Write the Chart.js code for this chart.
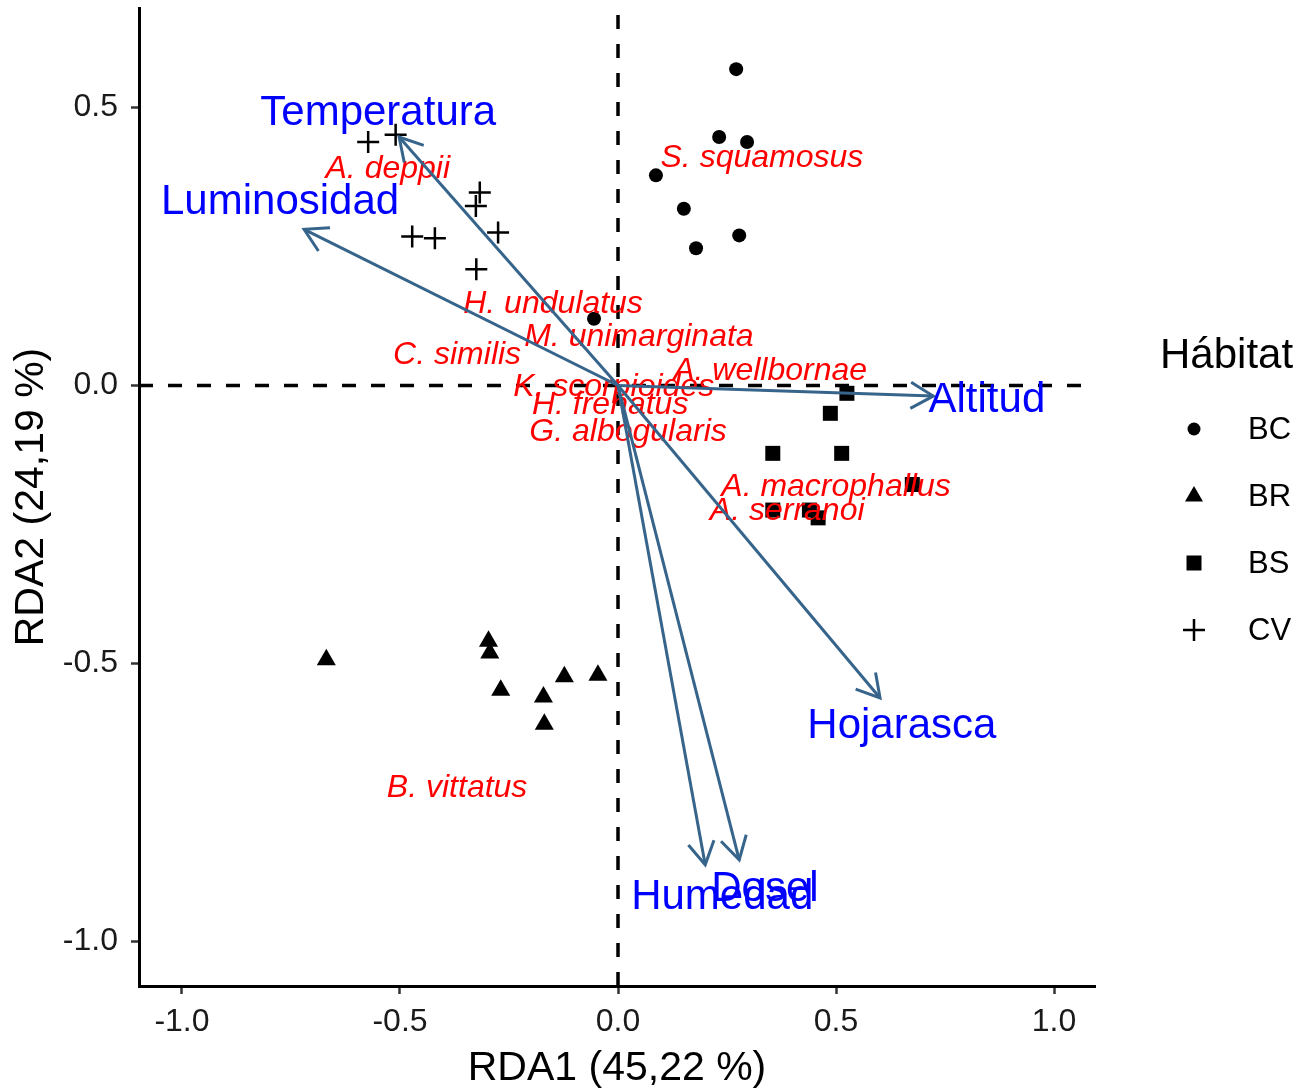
<!DOCTYPE html>
<html lang="es">
<head>
<meta charset="UTF-8">
<title>RDA biplot - Hábitat</title>
<script src="https://cdn.jsdelivr.net/npm/chart.js"></script>
<style>
  html, body { margin: 0; padding: 0; background: #fff; }
  #wrap { width: 1306px; height: 1088px; position: relative; }
</style>
</head>
<body>
<div id="wrap"><canvas id="rdaChart"></canvas></div>
<script>
// site scores (RDA1, RDA2) per habitat
const bcX = [0.271, 0.232, 0.296, 0.087, 0.151, 0.278, 0.179, -0.055];
const bcY = [0.569, 0.447, 0.438, 0.378, 0.318, 0.270, 0.247, 0.120];
const brX = [-0.669, -0.297, -0.294, -0.269, -0.171, -0.169, -0.123, -0.046];
const brY = [-0.493, -0.460, -0.481, -0.548, -0.560, -0.609, -0.524, -0.521];
const bsX = [0.525, 0.487, 0.355, 0.513, 0.675, 0.355, 0.439, 0.459];
const bsY = [-0.014, -0.050, -0.122, -0.122, -0.178, -0.224, -0.224, -0.238];
const cvX = [-0.573, -0.510, -0.317, -0.326, -0.275, -0.472, -0.420, -0.325];
const cvY = [0.438, 0.451, 0.347, 0.323, 0.275, 0.268, 0.265, 0.209];

// environmental vectors (arrow tips) and where their names sit
const envNames = ['Temperatura', 'Luminosidad', 'Altitud', 'Hojarasca', 'Humedad', 'Dosel'];
const envX = [-0.502, -0.720, 0.723, 0.601, 0.200, 0.278];
const envY = [0.447, 0.281, -0.019, -0.562, -0.862, -0.853];
const envLabelX = [-0.550, -0.775, 0.846, 0.651, 0.239, 0.337];
const envLabelY = [0.490, 0.330, -0.026, -0.614, -0.920, -0.907];

// species scores
const spNames = ['S. squamosus', 'A. deppii', 'H. undulatus', 'M. unimarginata', 'C. similis',
                 'A. wellbornae', 'K. scorpioides', 'H. frenatus', 'G. albogularis',
                 'A. macrophallus', 'A. serranoi', 'B. vittatus'];
const spX = [0.330, -0.528, -0.149, 0.048, -0.369, 0.349, -0.010, -0.018, 0.023, 0.500, 0.388, -0.369];
const spY = [0.409, 0.389, 0.147, 0.087, 0.055, 0.026, -0.003, -0.035, -0.084, -0.183, -0.226, -0.724];

const habitats = ['BC', 'BR', 'BS', 'CV'];
const xTicks = [-1.0, -0.5, 0.0, 0.5, 1.0];
const yTicks = [-1.0, -0.5, 0.0, 0.5];

const FONT = "'Liberation Sans', Arial, sans-serif";
const arrowColor = '#36648B';

const pts = (xs, ys) => xs.map((x, i) => ({ x: x, y: ys[i] }));

const habitatSets = [
  { label: habitats[0], data: pts(bcX, bcY), pointStyle: 'circle', pointRadius: 7, pointBorderWidth: 0 },
  { label: habitats[1], data: pts(brX, brY), pointStyle: 'triangle', pointRadius: 11, pointBorderWidth: 0 },
  { label: habitats[2], data: pts(bsX, bsY), pointStyle: 'rect', pointRadius: 10.6, pointBorderWidth: 0 },
  { label: habitats[3], data: pts(cvX, cvY), pointStyle: 'cross', pointRadius: 11, pointBorderWidth: 2.5 }
].map(d => Object.assign({ backgroundColor: '#000', borderColor: '#000', order: 1 }, d));

const arrowSets = envNames.map((n, i) => ({
  label: n,
  data: [{ x: 0, y: 0 }, { x: envX[i], y: envY[i] }],
  showLine: true,
  borderColor: arrowColor,
  borderWidth: 3,
  pointRadius: 0,
  order: 0
}));

// dashed reference lines through the origin
const zeroLines = {
  id: 'zeroLines',
  beforeDatasetsDraw(chart) {
    const { ctx, chartArea: a, scales: { x, y } } = chart;
    const x0 = x.getPixelForValue(0), y0 = y.getPixelForValue(0);
    ctx.save();
    ctx.strokeStyle = '#000';
    ctx.lineWidth = 3.5;
    ctx.setLineDash([14, 15]);
    ctx.beginPath();
    ctx.moveTo(x0, a.bottom); ctx.lineTo(x0, a.top);
    ctx.moveTo(a.left, y0); ctx.lineTo(a.right, y0);
    ctx.stroke();
    ctx.restore();
  }
};

// species names go above the points but under the arrows
const speciesLabels = {
  id: 'speciesLabels',
  afterDatasetDraw(chart, args) {
    if (args.index !== 0) return;
    const { ctx, scales: { x, y } } = chart;
    ctx.save();
    ctx.fillStyle = '#FF0000';
    ctx.font = 'italic 32px ' + FONT;
    ctx.textAlign = 'center';
    ctx.textBaseline = 'middle';
    spNames.forEach((n, i) => ctx.fillText(n, x.getPixelForValue(spX[i]), y.getPixelForValue(spY[i])));
    ctx.restore();
  }
};

// open arrow heads + variable names
const arrowHeads = {
  id: 'arrowHeads',
  afterDatasetsDraw(chart) {
    const { ctx, scales: { x, y } } = chart;
    const ox = x.getPixelForValue(0), oy = y.getPixelForValue(0);
    const L = 26;
    ctx.save();
    ctx.strokeStyle = arrowColor;
    ctx.lineWidth = 3;
    ctx.lineJoin = 'miter';
    envNames.forEach((n, i) => {
      const tx = x.getPixelForValue(envX[i]), ty = y.getPixelForValue(envY[i]);
      const ang = Math.atan2(ty - oy, tx - ox) + Math.PI;
      ctx.beginPath();
      ctx.moveTo(tx + L * Math.cos(ang - Math.PI / 6), ty + L * Math.sin(ang - Math.PI / 6));
      ctx.lineTo(tx, ty);
      ctx.lineTo(tx + L * Math.cos(ang + Math.PI / 6), ty + L * Math.sin(ang + Math.PI / 6));
      ctx.stroke();
    });
    ctx.fillStyle = '#0000FF';
    ctx.font = '42px ' + FONT;
    ctx.textAlign = 'center';
    ctx.textBaseline = 'middle';
    envNames.forEach((n, i) => ctx.fillText(n, x.getPixelForValue(envLabelX[i]), y.getPixelForValue(envLabelY[i])));
    ctx.restore();
  }
};

// legend drawn by hand so it sits mid-height like the original
const habitatLegend = {
  id: 'habitatLegend',
  afterDraw(chart) {
    const ctx = chart.ctx;
    const mx = 1194, tx = 1248;
    const rows = [429, 496, 563, 630];
    ctx.save();
    ctx.fillStyle = '#000';
    ctx.textBaseline = 'middle';
    ctx.textAlign = 'left';
    ctx.font = '42px ' + FONT;
    ctx.fillText('Hábitat', 1160, 356);
    ctx.font = '31px ' + FONT;
    habitats.forEach((h, i) => {
      const cy = rows[i];
      ctx.fillStyle = '#000';
      ctx.strokeStyle = '#000';
      ctx.beginPath();
      if (i === 0) {
        ctx.arc(mx, cy, 6.5, 0, Math.PI * 2); ctx.fill();
      } else if (i === 1) {
        ctx.moveTo(mx, cy - 10); ctx.lineTo(mx + 9, cy + 5.5); ctx.lineTo(mx - 9, cy + 5.5); ctx.closePath(); ctx.fill();
      } else if (i === 2) {
        ctx.rect(mx - 7.5, cy - 7.5, 15, 15); ctx.fill();
      } else {
        ctx.lineWidth = 2.5;
        ctx.moveTo(mx - 11, cy); ctx.lineTo(mx + 11, cy);
        ctx.moveTo(mx, cy - 11); ctx.lineTo(mx, cy + 11); ctx.stroke();
      }
      ctx.fillText(h, tx, cy + 1);
    });
    ctx.restore();
  }
};

const axisCommon = {
  type: 'linear',
  border: { display: true, color: '#000', width: 3 },
  grid: { display: true, drawOnChartArea: false, drawTicks: true, tickLength: 8, tickWidth: 2.5, tickColor: '#333' },
  ticks: { color: '#1a1a1a', font: { family: FONT, size: 32 }, autoSkip: false, maxRotation: 0, callback: v => Number(v).toFixed(1) }
};

new Chart(document.getElementById('rdaChart'), {
  type: 'scatter',
  data: { datasets: habitatSets.concat(arrowSets) },
  options: {
    responsive: true,
    maintainAspectRatio: false,
    animation: false,
    events: [],
    layout: { autoPadding: false, padding: { top: 8, right: 211, bottom: 0, left: 0 } },
    plugins: { legend: { display: false }, tooltip: { enabled: false } },
    scales: {
      x: Object.assign({}, axisCommon, {
        min: -1.0986, max: 1.094,
        afterBuildTicks: s => { s.ticks = xTicks.map(v => ({ value: v })); },
        afterFit: s => { s.height = 102; s.paddingLeft = 0; s.paddingRight = 0; },
        ticks: Object.assign({}, axisCommon.ticks, { padding: 9 }),
        title: { display: true, text: 'RDA1 (45,22 %)', color: '#000', font: { family: FONT, size: 41, lineHeight: 0.95 }, padding: { top: 0, bottom: 0 } }
      }),
      y: Object.assign({}, axisCommon, {
        min: -1.08, max: 0.679,
        afterBuildTicks: s => { s.ticks = yTicks.map(v => ({ value: v })); },
        afterFit: s => { s.width = 139; s.paddingTop = 0; s.paddingBottom = 0; },
        ticks: Object.assign({}, axisCommon.ticks, { padding: 13 }),
        title: { display: true, text: 'RDA2 (24,19 %)', color: '#000', font: { family: FONT, size: 41, lineHeight: 1.1 }, padding: { top: 9, bottom: 0 } }
      })
    }
  },
  plugins: [zeroLines, speciesLabels, arrowHeads, habitatLegend]
});
</script>
</body>
</html>
